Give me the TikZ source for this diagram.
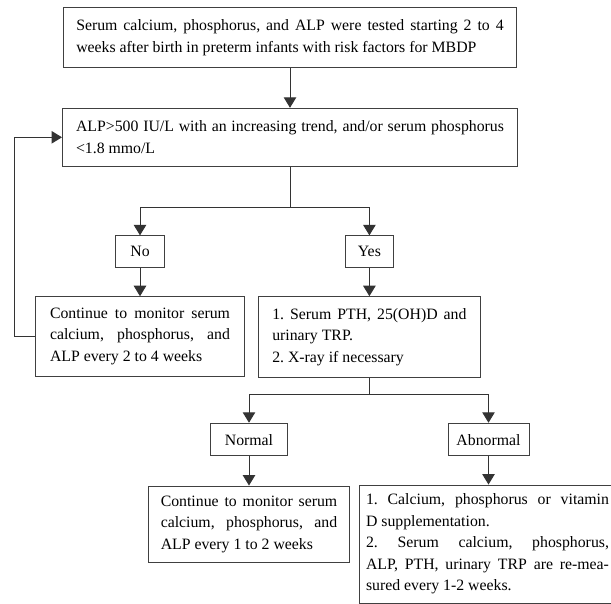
\documentclass[tikz,border=0pt]{standalone}
\usepackage{fontspec}
\setmainfont{Liberation Serif}
\usepackage{tikz}
\usetikzlibrary{arrows.meta}
\tolerance=10000 \hbadness=10000 \hyphenpenalty=10000

\begin{document}
\begin{tikzpicture}[x=1pt,y=-1pt,font=\fontsize{15.8}{21.5}\selectfont\frenchspacing,
  box/.style={draw=black!75,line width=1pt,align=justify,inner ysep=2pt},
  tag/.style={draw=black!75,line width=1pt,minimum height=31.5pt,inner sep=2pt},
  link/.style={draw=black!80,line width=1pt,-{Triangle[width=12.5pt,length=10.5pt]}}]
\useasboundingbox (0,0) rectangle (611,604);
\node[box,text width=427.5pt,inner xsep=13pt,minimum height=60.4pt] (start) at (290,37.5)
  {Serum calcium, phosphorus, and ALP were tested starting 2 to 4\linebreak weeks after birth in preterm infants with risk factors for MBDP};
\node[box,text width=428pt,inner xsep=13.5pt,minimum height=58pt] (check) at (290,137.3)
  {ALP>500 IU/L with an increasing trend, and/or serum phosphorus\linebreak <1.8 mmo/L};
\node[tag,minimum width=48.7pt] (no) at (140,251.6) {No};
\node[tag,minimum width=48.7pt] (yes) at (369.4,251.6) {Yes};
\node[box,text width=180pt,inner xsep=14.4pt,minimum height=79.3pt] (monA) at (140,336.4)
  {Continue to monitor serum\linebreak calcium, phosphorus, and\linebreak ALP every 2 to 4 weeks};
\node[box,text width=194.3pt,inner xsep=14.2pt,minimum height=81pt] (tests) at (369.4,337.2)
  {1. Serum PTH, 25(OH)D and\linebreak urinary TRP.\\2. X-ray if necessary};
\node[tag,minimum width=77pt,minimum height=32.7pt] (normal) at (249,439.6) {Normal};
\node[tag,minimum width=81pt,minimum height=32.7pt] (abnormal) at (488.5,439.6) {Abnormal};
\node[box,text width=176.5pt,inner xsep=11.8pt,minimum height=76.7pt] (monB) at (249,524.4)
  {Continue to monitor serum\linebreak calcium, phosphorus, and\linebreak ALP every 1 to 2 weeks};
\node[box,text width=243pt,inner xsep=6.4pt,minimum height=118.3pt] (treat) at (487.5,544.2)
  {1. Calcium, phosphorus or vitamin\linebreak D supplementation.\\2. Serum calcium, phosphorus,\linebreak ALP, PTH, urinary TRP are re-mea-\linebreak sured every 1-2 weeks.};
\coordinate (forkA) at (290,207.3);
\coordinate (forkB) at (369.4,394.3);
\draw[link] (start) -- (check);
\draw[link] (check) -- (forkA) -| (no);
\draw[link] (forkA) -| (yes);
\draw[link] (no) -- (monA);
\draw[link] (yes) -- (tests);
\draw[link] (monA.west) -- ++(-20.2,0) |- (check.west);
\draw[link] (tests) -- (forkB) -| (normal);
\draw[link] (forkB) -| (abnormal);
\draw[link] (normal) -- (monB);
\draw[link] (abnormal.south) -- (abnormal.south |- treat.north);
\end{tikzpicture}
\end{document}
